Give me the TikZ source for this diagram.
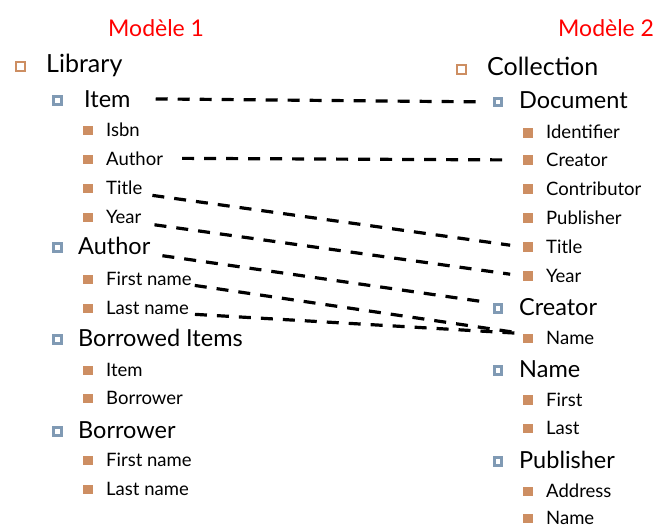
\documentclass[tikz,border=0pt]{standalone}
\usepackage{fontspec}
\setmainfont{Lato}
\usetikzlibrary{positioning}
\definecolor{bulletBrown}{RGB}{205,142,98}
\definecolor{bulletBlue}{RGB}{128,154,180}

\begin{document}
\begin{tikzpicture}[x=1pt,y=-1pt,
  modelTitle/.style={anchor=base west,inner sep=0pt,text=red,font=\fontsize{23}{25}\selectfont},
  lvlA/.style={anchor=base west,inner sep=0pt,font=\fontsize{25}{27}\selectfont},
  lvlB/.style={anchor=base west,inner sep=0pt,font=\fontsize{23.5}{25}\selectfont},
  lvlC/.style={anchor=base west,inner sep=0pt,font=\fontsize{18.5}{20}\selectfont},
  bulA/.style={draw=bulletBrown,fill=white,line width=2pt,minimum size=9pt,inner sep=0pt},
  bulB/.style={draw=bulletBlue,fill=white,line width=3.4pt,minimum size=7.5pt,inner sep=0pt},
  bulC/.style={fill=bulletBrown,minimum size=9.5pt,inner sep=0pt},
  link/.style={line width=3.2pt,dash pattern=on 12pt off 10pt}]
\path[use as bounding box] (0,0) rectangle (654,527);

% Modele 1
\node[modelTitle] (titleOne) at (108,37) {Modèle 1};
\node[bulA] (lLibraryB) at (20.5,66.5) {};
\node[lvlA] (lLibrary) at (46,73) {Library};
\node[bulB] (lItemB) at (57.5,100.5) {};
\node[lvlB] (lItem) at (84,107) {Item};
\node[bulC] (lIsbnB) at (88,130.5) {};
\node[lvlC] (lIsbn) at (106,136) {Isbn};
\node[bulC] (lAuthorSubB) at (88,159.5) {};
\node[lvlC] (lAuthorSub) at (106,165) {Author};
\node[bulC] (lTitleB) at (88,188.5) {};
\node[lvlC] (lTitle) at (106,194) {Title};
\node[bulC] (lYearB) at (88,217.5) {};
\node[lvlC] (lYear) at (106,223) {Year};
\node[bulB] (lAuthorB) at (57.5,247.5) {};
\node[lvlB] (lAuthor) at (78,254) {Author};
\node[bulC] (lFirstB) at (88,279.5) {};
\node[lvlC] (lFirst) at (106,285) {First name};
\node[bulC] (lLastB) at (88,308.5) {};
\node[lvlC] (lLast) at (106,314) {Last name};
\node[bulB] (lBorrowedB) at (57.5,339.5) {};
\node[lvlB] (lBorrowed) at (78,346) {Borrowed Items};
\node[bulC] (lBItemB) at (88,370.5) {};
\node[lvlC] (lBItem) at (106,376) {Item};
\node[bulC] (lBBorrowerB) at (88,398.5) {};
\node[lvlC] (lBBorrower) at (106,404) {Borrower};
\node[bulB] (lBorrowerB) at (57.5,431.5) {};
\node[lvlB] (lBorrower) at (78,438) {Borrower};
\node[bulC] (lBFirstB) at (88,460.5) {};
\node[lvlC] (lBFirst) at (106,466) {First name};
\node[bulC] (lBLastB) at (88,489.5) {};
\node[lvlC] (lBLast) at (106,495) {Last name};

% Modele 2
\node[modelTitle] (titleTwo) at (558,37) {Modèle 2};
\node[bulA] (rCollectionB) at (461.5,70) {};
\node[lvlA] (rCollection) at (487,76) {Collection};
\node[bulB] (rDocumentB) at (498,102) {};
\node[lvlB] (rDocument) at (519,109) {Document};
\node[bulC] (rIdentB) at (528,133) {};
\node[lvlC] (rIdent) at (546,139) {Identifier};
\node[bulC] (rCreatorSubB) at (528,160) {};
\node[lvlC] (rCreatorSub) at (546,166) {Creator};
\node[bulC] (rContribB) at (528,189) {};
\node[lvlC] (rContrib) at (546,195) {Contributor};
\node[bulC] (rPublisherSubB) at (528,218) {};
\node[lvlC] (rPublisherSub) at (546,224) {Publisher};
\node[bulC] (rTitleB) at (528,247) {};
\node[lvlC] (rTitle) at (546,253) {Title};
\node[bulC] (rYearB) at (528,276) {};
\node[lvlC] (rYear) at (546,282) {Year};
\node[bulB] (rCreatorB) at (498,308.5) {};
\node[lvlB] (rCreator) at (519,315) {Creator};
\node[bulC] (rNameSubB) at (528,338.5) {};
\node[lvlC] (rNameSub) at (546,344) {Name};
\node[bulB] (rNameB) at (498,370.5) {};
\node[lvlB] (rName) at (519,377) {Name};
\node[bulC] (rFirstB) at (528,400) {};
\node[lvlC] (rFirst) at (546,406) {First};
\node[bulC] (rLastB) at (528,428.5) {};
\node[lvlC] (rLast) at (546,434) {Last};
\node[bulB] (rPublisherB) at (498,461.5) {};
\node[lvlB] (rPublisher) at (519,468) {Publisher};
\node[bulC] (rAddressB) at (528,491.5) {};
\node[lvlC] (rAddress) at (546,497) {Address};
\node[bulC] (rNameLastB) at (528,518.5) {};
\node[lvlC] (rNameLast) at (546,524) {Name};

% correspondances
\draw[link,shorten <=25pt,shorten >=8pt] (lItem.east) -- (rDocumentB.west);
\draw[link,shorten <=19pt,shorten >=13pt] (lAuthorSub.east) -- (rCreatorSubB.west);
\draw[link,shorten <=10pt,shorten >=13pt] (lTitle.base east) -- (rTitleB.west);
\draw[link,shorten <=13pt,shorten >=13pt] (lYear.base east) -- (rYearB.west);
\draw[link,shorten <=12pt,shorten >=10pt] (lAuthor.base east) -- (rCreatorB.north west);
\draw[link,shorten <=3pt,shorten >=2pt] (lFirst.base east) -- (rNameSubB.north west);
\draw[link,shorten <=6pt] (lLast.base east) -- (rNameSubB.north west);
\end{tikzpicture}
\end{document}
